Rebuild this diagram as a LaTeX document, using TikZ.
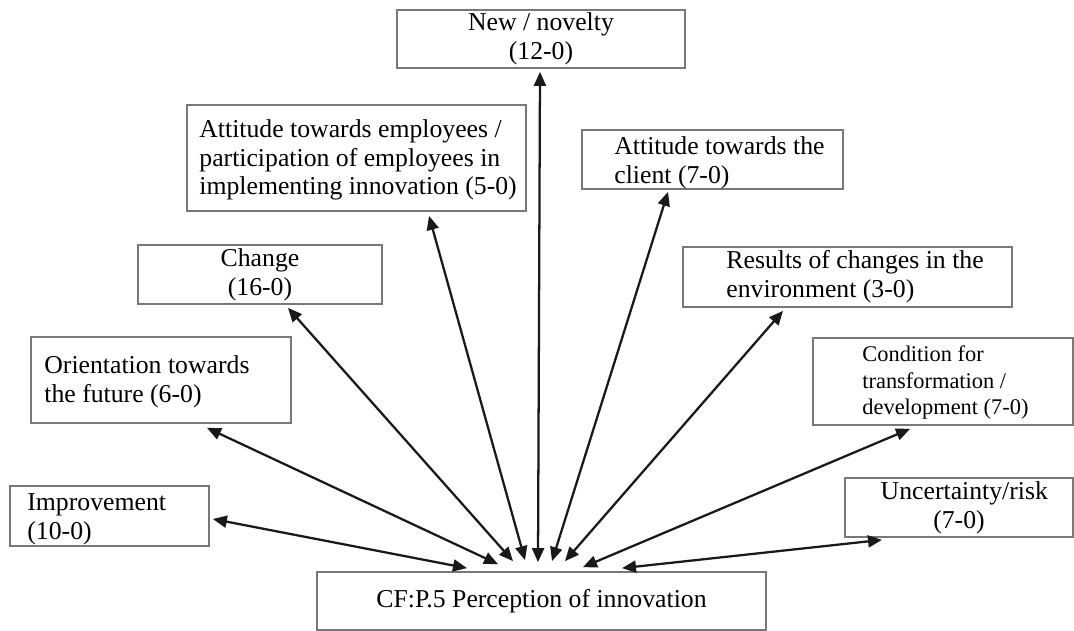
\documentclass[tikz,border=0pt]{standalone}
\usepackage{fontspec}
\setmainfont{Liberation Serif}
\usetikzlibrary{arrows.meta,calc}
\definecolor{boxgray}{RGB}{120,120,120}
\definecolor{arrowblack}{RGB}{25,25,25}
\newcommand\bxfont{\fontsize{19.3}{21.5}\selectfont}
\newcommand\smfont{\fontsize{16.8}{20}\selectfont}
\begin{document}
\begin{tikzpicture}[x=0.75pt,y=-0.75pt,
  box/.style={draw=boxgray, line width=1.3pt, inner sep=0pt, align=center, font=\bxfont},
  txt/.style={anchor=west, align=left, inner sep=0pt, font=\bxfont},
  link/.style={draw=arrowblack, line width=1.7pt, {Triangle[length=10.5pt,width=9pt]}-{Triangle[length=10.5pt,width=9pt]}}
]
\useasboundingbox (0,0) rectangle (1074,631);

% boxes
\node[box, minimum width=216pt, minimum height=43.5pt] (new) at (541,39) {New / novelty\\(12-0)};
\node[box, minimum width=254.25pt, minimum height=79.5pt] (emp) at (356.5,158) {};
\node[box, minimum width=195.75pt, minimum height=44.25pt] (cli) at (712.5,159.5) {};
\node[box, minimum width=183pt, minimum height=44.25pt] (chg) at (260,274.5) {Change\\(16-0)};
\node[box, minimum width=246.75pt, minimum height=45pt] (res) at (847.5,277) {};
\node[box, minimum width=195pt, minimum height=64.5pt] (ori) at (161,380) {};
\node[box, minimum width=195pt, minimum height=65.25pt] (con) at (943,381.5) {};
\node[box, minimum width=149.25pt, minimum height=45pt] (imp) at (109.5,516) {};
\node[box, minimum width=171pt, minimum height=44.25pt] (unc) at (959,507.5) {\hspace*{8pt}Uncertainty/risk\\(7-0)};
\node[box, minimum width=336.75pt, minimum height=43.5pt] (cf) at (541.5,601) {CF:P.5 Perception of innovation};

% left-aligned texts
\node[txt] (empt) at ($(emp.west)+(13,2)$) {Attitude towards employees /\\participation of employees in\\implementing innovation (5-0)};
\node[txt] (clit) at ($(cli.west)+(33,3)$) {Attitude towards the\\client (7-0)};
\node[txt] (orit) at ($(ori.west)+(14,2)$) {Orientation towards\\the future (6-0)};
\node[txt] (impt) at ($(imp.west)+(18,3)$) {Improvement\\(10-0)};
\node[txt] (rest) at ($(res.west)+(44,0)$) {Results of changes in the\\environment (3-0)};
\node[txt, font=\smfont] (cont) at ($(con.west)+(50,1)$) {Condition for\\transformation /\\development (7-0)};

% connectors
\draw[link] ($(cf.north)+(-74.5,-3)$) -- ($(imp.east)+(3,3)$);
\draw[link] ($(cf.north)+(-43.5,-7)$) -- ($(ori.south)+(46,4)$);
\draw[link] ($(cf.north)+(-28.5,-10)$) -- ($(chg.south)+(28,3)$);
\draw[link] ($(cf.north)+(-16.5,-11)$) -- ($(emp.south)+(72.5,4)$);
\draw[link] ($(cf.north)+(-3.5,-9)$) -- ($(new.south)+(-1,3)$);
\draw[link] ($(cf.north)+(10.5,-10)$) -- ($(cli.south)+(-44.5,2)$);
\draw[link] ($(cf.north)+(23.5,-10)$) -- ($(res.south)+(-64.5,3)$);
\draw[link] ($(cf.north)+(41.5,-4)$) -- ($(con.south)+(-33,3)$);
\draw[link] ($(cf.north)+(80.5,-3)$) -- ($(unc.south)+(-77,2)$);
\end{tikzpicture}
\end{document}
